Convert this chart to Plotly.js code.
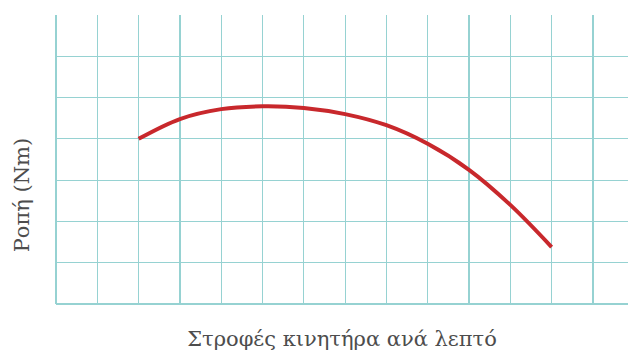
<!DOCTYPE html>
<html>
<head>
<meta charset="utf-8">
<script src="https://cdn.plot.ly/plotly-3.0.1.min.js"></script>
<style>html,body{margin:0;padding:0;background:#fff;}#chart{width:628px;height:351px;}</style>
</head>
<body>
<div id="chart"></div>
<script>
// Engine speed (grid units) and torque (grid units)
const rpm = [2, 3, 4, 5, 6, 7, 8, 9, 10, 11, 12];
const torque = [4.0, 4.48, 4.72, 4.79, 4.75, 4.6, 4.33, 3.88, 3.25, 2.4, 1.38];
const xTitle = "Στροφές κινητήρα ανά λεπτό";
const yTitle = "Ροπή (Nm)";

const grid = "rgb(150,210,210)";
const fontFam = "DejaVu Serif, Liberation Serif, serif";
const textCol = "#4d4d4d";

Plotly.newPlot("chart", [{
  x: rpm, y: torque, type: "scatter", mode: "lines",
  line: {color: "#c8282c", width: 4, shape: "spline", smoothing: 1},
  hoverinfo: "skip"
}], {
  width: 628, height: 351,
  margin: {l: 56, r: 0, t: 15, b: 47, pad: 0},
  paper_bgcolor: "#fff", plot_bgcolor: "#fff",
  showlegend: false,
  xaxis: {
    range: [0, 13.85], dtick: 1, tick0: 0, showticklabels: false, ticks: "",
    showgrid: true, gridcolor: grid, gridwidth: 1.2,
    zeroline: true, zerolinecolor: grid, zerolinewidth: 1.2,
    title: {text: xTitle, font: {family: fontFam, size: 21, color: textCol}, standoff: 34}
  },
  yaxis: {
    range: [0, 7], dtick: 1, tick0: 0, showticklabels: false, ticks: "",
    showgrid: true, gridcolor: grid, gridwidth: 1.2,
    zeroline: true, zerolinecolor: grid, zerolinewidth: 1.2,
    showline: false
  },
  annotations: [{
    text: yTitle, textangle: -90, showarrow: false,
    xref: "paper", yref: "paper", x: -0.059, y: 0.377, xanchor: "center", yanchor: "middle",
    font: {family: fontFam, size: 21, color: textCol}
  }]
}, {staticPlot: true});
</script>
</body>
</html>
